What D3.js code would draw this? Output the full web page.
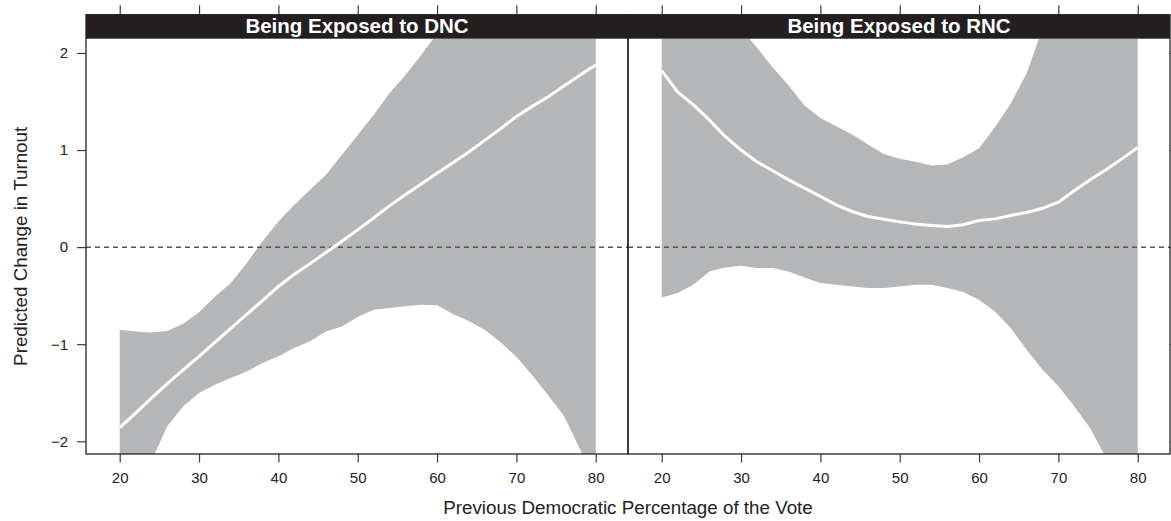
<!DOCTYPE html>
<html>
<head>
<meta charset="utf-8">
<script src="https://cdn.jsdelivr.net/npm/d3@7"></script>
<style>
  body { margin: 0; background: #fff; }
  svg { display: block; font-family: "Liberation Sans", Arial, Helvetica, sans-serif; }
  .axis path { display: none; }
  .axis line { stroke: #3a3a3a; stroke-width: 1.2; }
  .axis text { fill: #222; font-size: 15px; }
</style>
</head>
<body>
<svg width="1171" height="521"></svg>
<script>
// panel titles and axis ticks
const panels = ["Being Exposed to DNC", "Being Exposed to RNC"];
const xTicks = [20, 30, 40, 50, 60, 70, 80];
const yTicks = [-2, -1, 0, 1, 2];

// previous democratic vote share (both panels)
const vote = [20, 22, 24, 26, 28, 30, 32, 34, 36, 38, 40, 42, 44, 46, 48, 50,
              52, 54, 56, 58, 60, 62, 64, 66, 68, 70, 72, 74, 76, 78, 80];

// DNC panel: fitted effect and confidence bounds
const dncFit = [-1.86, -1.71, -1.555, -1.405, -1.265, -1.125, -0.98, -0.836, -0.693, -0.55, -0.405,
                -0.28, -0.17, -0.055, 0.06, 0.178, 0.3, 0.425, 0.54, 0.65, 0.762,
                0.87, 0.98, 1.1, 1.22, 1.345, 1.45, 1.55, 1.66, 1.77, 1.877];
const dncUpper = [-0.851, -0.87, -0.88, -0.865, -0.79, -0.67, -0.51, -0.37, -0.165, 0.06, 0.265,
                  0.435, 0.59, 0.745, 0.95, 1.156, 1.36, 1.585, 1.77, 1.98, 2.2,
                  2.45, 2.7, 2.95, 3.2, 3.45, 3.7, 3.95, 4.2, 4.45, 4.7];
const dncLower = [-2.8, -2.5, -2.2, -1.846, -1.64, -1.503, -1.417, -1.348, -1.28, -1.194, -1.125,
                  -1.04, -0.97, -0.868, -0.817, -0.72, -0.645, -0.628, -0.61, -0.594, -0.6,
                  -0.69, -0.76, -0.85, -0.98, -1.13, -1.32, -1.525, -1.74, -2.08, -2.4];

// RNC panel: fitted effect and confidence bounds
const rncFit = [1.819, 1.6, 1.465, 1.31, 1.14, 1.0, 0.88, 0.786, 0.693, 0.607, 0.522,
                0.435, 0.367, 0.316, 0.288, 0.26, 0.237, 0.223, 0.213, 0.23, 0.275,
                0.291, 0.326, 0.357, 0.4, 0.463, 0.58, 0.693, 0.796, 0.909, 1.026];
const rncUpper = [3.5, 3.2, 2.95, 2.7, 2.45, 2.25, 2.056, 1.85, 1.665, 1.46, 1.33,
                  1.245, 1.16, 1.056, 0.96, 0.91, 0.88, 0.842, 0.85, 0.925, 1.019,
                  1.235, 1.48, 1.79, 2.25, 2.75, 3.25, 3.75, 4.25, 4.75, 5.25];
const rncLower = [-0.518, -0.473, -0.388, -0.25, -0.209, -0.192, -0.216, -0.216, -0.25, -0.312, -0.37,
                  -0.388, -0.405, -0.422, -0.42, -0.405, -0.388, -0.388, -0.422, -0.463, -0.542,
                  -0.662, -0.834, -1.057, -1.263, -1.434, -1.64, -1.863, -2.17, -2.45, -2.7];

const series = [
  { fit: dncFit, lo: dncLower, hi: dncUpper },
  { fit: rncFit, lo: rncLower, hi: rncUpper }
];

const svg = d3.select("svg");
const mLeft = 86, mTop = 38.7, plotBottom = 454, stripH = 24;
const panelW = 542, plotH = plotBottom - mTop;

const x = d3.scaleLinear().domain([15.75, 84.07]).range([0, panelW]);
const y = d3.scaleLinear().domain([-2.131, 2.147]).range([plotH, 0]);

const area = d3.area().x((d, i) => x(vote[i])).y0(d => y(d[0])).y1(d => y(d[1]));
const line = d3.line().x((d, i) => x(vote[i])).y(d => y(d));

svg.append("defs").append("clipPath").attr("id", "plotClip")
  .append("rect").attr("width", panelW).attr("height", plotH);

panels.forEach((title, p) => {
  const g = svg.append("g").attr("transform", `translate(${mLeft + p * panelW}, ${mTop})`);
  const s = series[p];

  const plot = g.append("g").attr("clip-path", "url(#plotClip)");
  plot.append("path")
    .datum(s.lo.map((v, i) => [v, s.hi[i]]))
    .attr("fill", "#b5b6b8")
    .attr("d", area);

  plot.append("line")
    .attr("x1", 0).attr("x2", panelW)
    .attr("y1", y(0)).attr("y2", y(0))
    .attr("stroke", "#555").attr("stroke-width", 1.5)
    .attr("stroke-dasharray", "5,4");

  plot.append("path")
    .datum(s.fit)
    .attr("fill", "none")
    .attr("stroke", "#fff")
    .attr("stroke-width", 3)
    .attr("stroke-linejoin", "round")
    .attr("d", line);

  // strip
  g.append("rect")
    .attr("y", -stripH).attr("width", panelW).attr("height", stripH)
    .attr("fill", "#231f20");
  g.append("text")
    .attr("x", panelW / 2).attr("y", -5.5)
    .attr("text-anchor", "middle")
    .attr("fill", "#fff")
    .style("font-size", "20.5px").style("font-weight", "bold")
    .text(title);

  // bottom axis with labels, top ticks above the strip
  g.append("g").attr("class", "axis")
    .attr("transform", `translate(0, ${plotH})`)
    .call(d3.axisBottom(x).tickValues(xTicks).tickSize(8.5).tickPadding(8))
    .selectAll("text").attr("dy", "0.85em");
  g.append("g").attr("class", "axis")
    .attr("transform", `translate(0, ${-stripH})`)
    .call(d3.axisTop(x).tickValues(xTicks).tickSize(9.5).tickFormat(""));

  // frame
  g.append("rect")
    .attr("y", -stripH).attr("width", panelW).attr("height", plotH + stripH)
    .attr("fill", "none").attr("stroke", "#222").attr("stroke-width", 1.3);
});

// y axes
svg.append("g").attr("class", "axis")
  .attr("transform", `translate(${mLeft}, ${mTop})`)
  .call(d3.axisLeft(y).tickValues(yTicks).tickSize(9).tickPadding(9)
    .tickFormat(d => d < 0 ? "\u2212" + Math.abs(d) : d));
svg.append("g").attr("class", "axis")
  .attr("transform", `translate(${mLeft + 2 * panelW}, ${mTop})`)
  .call(d3.axisRight(y).tickValues(yTicks).tickSize(9).tickFormat(""));

// axis titles
svg.append("text")
  .attr("x", mLeft + panelW).attr("y", 514)
  .attr("text-anchor", "middle")
  .attr("fill", "#222")
  .style("font-size", "18.8px")
  .text("Previous Democratic Percentage of the Vote");

svg.append("text")
  .attr("transform", `translate(27, ${mTop + plotH / 2}) rotate(-90)`)
  .attr("text-anchor", "middle")
  .attr("fill", "#222")
  .style("font-size", "18.8px")
  .text("Predicted Change in Turnout");
</script>
</body>
</html>
